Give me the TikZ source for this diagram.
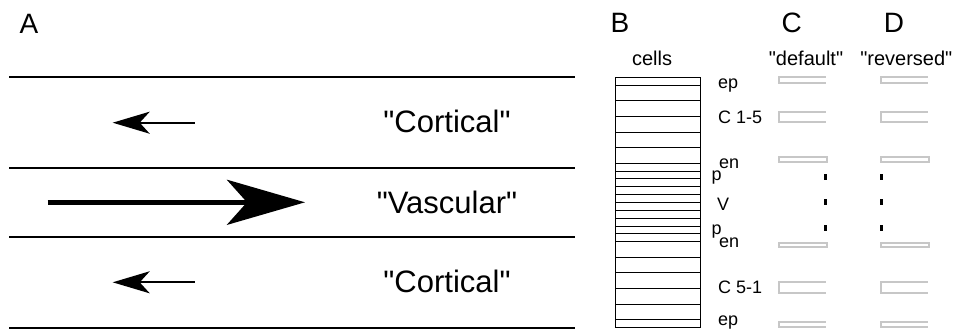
\documentclass[tikz,border=0pt]{standalone}
\usepackage{fontspec}
\setmainfont{Liberation Sans}[Ligatures=TeXOff]
\usetikzlibrary{positioning, arrows.meta}

\begin{document}
\begin{tikzpicture}[
    x=1pt, y=-1pt,
    panel/.style={font=\fontsize{28}{30}\selectfont, inner sep=0pt},
    zone/.style={font=\fontsize{31}{34}\selectfont, inner sep=0pt},
    head/.style={font=\fontsize{20}{22}\selectfont, inner sep=0pt, anchor=base},
    tissue/.style={font=\fontsize{18}{20}\selectfont, inner sep=0pt, anchor=base west},
    border/.style={line width=2pt},
    cellrow/.style={line width=0.8pt},
    slot/.style={draw=black!22, line width=2pt},
    flow/.style={line width=2pt, -{Stealth[length=37pt, width=22pt, inset=10pt]}},
    bigflow/.style={line width=5pt, -{Stealth[length=78pt, width=45pt, inset=20pt]}}
]
\useasboundingbox (0,0) rectangle (957,330);

% --- Panel letters ---
\node[panel] (labA) at (29,24.3) {A};
\node[panel] (labB) at (620,23.3) {B};
\node[panel] (labC) at (791.7,23.3) {C};
\node[panel] (labD) at (894,23.3) {D};

% --- Panel A: zones ---
\draw[border] (9,77.3) -- (575,77.3);
\draw[border] (9,168.3) -- (575,168.3);
\draw[border] (9,236.7) -- (575,236.7);
\draw[border] (9,327.7) -- (575,327.7);

\node[zone] (cortTop) at (447,121) {"Cortical"};
\node[zone] (vascMid) at (447,202) {"Vascular"};
\node[zone] (cortBot) at (447,281) {"Cortical"};

% --- Panel A: flow arrows ---
\coordinate (topTail) at (194.7,122.7);
\coordinate (topTip) at (112.7,122.7);
\coordinate (midTail) at (47.7,202.3);
\coordinate (midTip) at (305,202.3);
\coordinate (botTail) at (194.7,282.3);
\coordinate (botTip) at (112.7,282.3);
\draw[flow] (topTail) -- (topTip);
\draw[bigflow] (midTail) -- (midTip);
\draw[flow] (botTail) -- (botTip);

% --- Panel B: cell file ---
\node[head] (cells) at (652,65) {cells};
\draw[line width=1pt] (615,77.3) rectangle (700.5,327.5);
\foreach \yy in {85.15, 100.75, 116.35, 131.95, 147.55, 163.15, 171, 178.85,
                 186.7, 194.55, 202.4, 210.25, 218.1, 225.95, 233.8, 241.65,
                 257.25, 272.85, 288.45, 304.05, 319.65}
    \draw[cellrow] (615,\yy) -- (700.5,\yy);

% --- Tissue labels ---
\node[tissue] (epTop) at (718,88.5) {ep};
\node[tissue] (cortUp) at (718,123.3) {C 1-5};
\node[tissue] (pUp) at (711.5,180) {p\kern-2.5pt\raisebox{11.7pt}{en}};
\node[tissue] (vasc) at (717,210) {V};
\node[tissue] (pDown) at (711.5,234) {p\kern-2.5pt\raisebox{-13pt}{en}};
\node[tissue] (cortDown) at (718,293.3) {C 5-1};
\node[tissue] (epBot) at (718,325.5) {ep};

% --- Panels C and D: headers ---
\node[head] (default) at (806,65) {"default"};
\node[head] (reversed) at (906.3,65) {"reversed"};

% --- Panels C and D: slots ---
\foreach \cx in {779, 881} {
    \draw[slot] (\cx+46.5,77) -| (\cx,83) -- (\cx+46.5,83);
    \draw[slot] (\cx+46.5,111.7) -| (\cx,122.3) -- (\cx+46.5,122.3);
    \draw[slot] (\cx,157) rectangle (\cx+47.5,162.3);
    \draw[slot] (\cx,242.7) rectangle (\cx+47.5,247.3);
    \draw[slot] (\cx+46.5,282) -| (\cx,293) -- (\cx+46.5,293);
    \draw[slot] (\cx+46.5,322) -| (\cx,327.3) -- (\cx+46.5,327.3);
}

% --- Vascular dots ---
\foreach \dy in {177, 202, 227.5} {
    \fill (824.2,\dy-3) rectangle (827.2,\dy+3);
    \fill (880.2,\dy-3) rectangle (883.2,\dy+3);
}

\end{tikzpicture}
\end{document}
